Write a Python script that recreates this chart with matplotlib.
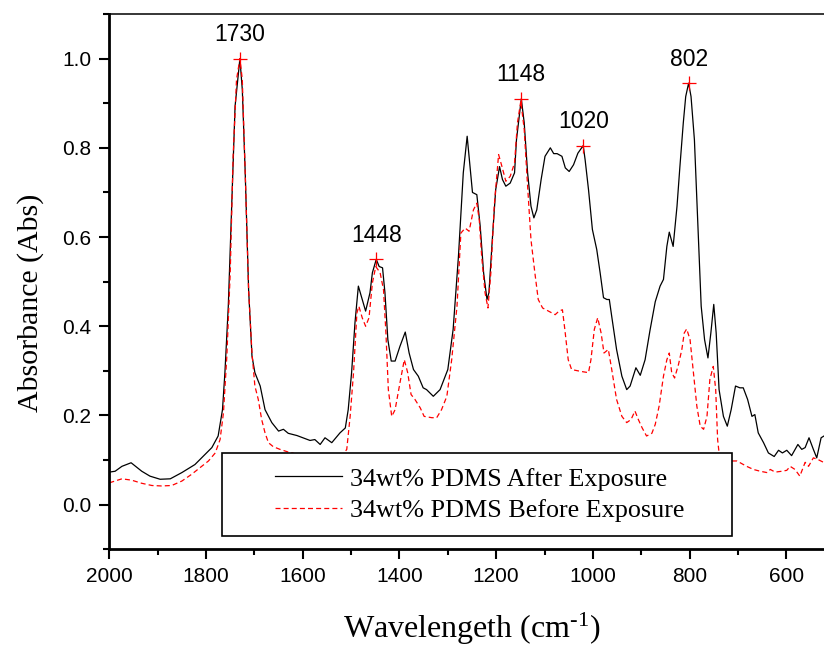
import numpy as np
import matplotlib
matplotlib.use("Agg")
import matplotlib.pyplot as plt
from matplotlib.ticker import MultipleLocator, FormatStrFormatter
from matplotlib.legend_handler import HandlerLine2D

# FTIR spectrum, 34wt% PDMS sample after exposure (wavenumber, absorbance)
after_wn = [2000, 1988, 1974, 1955, 1933, 1916, 1895, 1874, 1850, 1823, 1802, 1788,
            1775, 1766, 1761, 1754, 1747, 1740, 1730, 1725, 1719, 1712, 1705, 1699,
            1688, 1678, 1664, 1650, 1640, 1630, 1612, 1585, 1575, 1564, 1554, 1540,
            1523, 1512, 1506, 1499, 1492, 1485, 1477, 1470, 1461, 1456, 1448, 1442,
            1435, 1430, 1424, 1417, 1409, 1399, 1388, 1380, 1371, 1361, 1351, 1344,
            1330, 1316, 1300, 1289, 1278, 1268, 1260, 1254, 1249, 1240, 1233, 1226,
            1219, 1215, 1208, 1201, 1193, 1187, 1180, 1171, 1162, 1158, 1148, 1142,
            1135, 1128, 1122, 1116, 1107, 1099, 1088, 1081, 1074, 1064, 1057, 1049,
            1040, 1031, 1020, 1016, 1009, 1001, 992, 985, 978, 971, 966, 961,
            951, 940, 930, 923, 911, 902, 892, 882, 871, 861, 854, 847,
            842, 834, 826, 820, 813, 808, 802, 797, 790, 783, 776, 769,
            762, 756, 750, 745, 739, 730, 722, 714, 705, 696, 689, 680,
            671, 665, 658, 647, 637, 625, 616, 608, 599, 589, 576, 568,
            561, 553, 544, 537, 528, 522]
after_abs = [0.073, 0.075, 0.086, 0.094, 0.075, 0.064, 0.057, 0.058, 0.072, 0.090, 0.113, 0.128,
             0.154, 0.213, 0.296, 0.445, 0.669, 0.893, 1.000, 0.930, 0.744, 0.482, 0.333, 0.296,
             0.266, 0.213, 0.184, 0.165, 0.169, 0.160, 0.155, 0.144, 0.146, 0.135, 0.150, 0.139,
             0.161, 0.172, 0.213, 0.296, 0.408, 0.490, 0.460, 0.434, 0.475, 0.520, 0.550, 0.534,
             0.531, 0.475, 0.370, 0.322, 0.322, 0.355, 0.387, 0.340, 0.303, 0.288, 0.262, 0.258,
             0.243, 0.258, 0.303, 0.393, 0.557, 0.744, 0.826, 0.758, 0.700, 0.695, 0.624, 0.520,
             0.460, 0.475, 0.594, 0.706, 0.758, 0.729, 0.714, 0.721, 0.744, 0.818, 0.910, 0.856,
             0.744, 0.669, 0.643, 0.661, 0.729, 0.781, 0.800, 0.787, 0.787, 0.781, 0.755, 0.747,
             0.762, 0.788, 0.805, 0.773, 0.706, 0.617, 0.572, 0.520, 0.464, 0.460, 0.460, 0.422,
             0.348, 0.288, 0.258, 0.266, 0.307, 0.290, 0.325, 0.390, 0.455, 0.490, 0.505, 0.579,
             0.611, 0.579, 0.669, 0.758, 0.856, 0.915, 0.945, 0.915, 0.818, 0.632, 0.445, 0.370,
             0.329, 0.385, 0.449, 0.385, 0.258, 0.198, 0.176, 0.213, 0.266, 0.262, 0.262, 0.236,
             0.198, 0.202, 0.161, 0.139, 0.116, 0.108, 0.122, 0.116, 0.122, 0.110, 0.135, 0.124,
             0.128, 0.150, 0.124, 0.105, 0.150, 0.154]

# Same sample before exposure
before_wn = [2000, 1974, 1954, 1933, 1912, 1892, 1871, 1850, 1830, 1809, 1795, 1781,
             1771, 1764, 1757, 1750, 1744, 1737, 1730, 1725, 1719, 1712, 1705, 1699,
             1692, 1685, 1678, 1671, 1661, 1647, 1630, 1600, 1560, 1530, 1515, 1509,
             1502, 1495, 1488, 1484, 1477, 1470, 1463, 1456, 1449, 1440, 1433, 1428,
             1423, 1416, 1409, 1399, 1390, 1383, 1376, 1368, 1357, 1349, 1333, 1323,
             1313, 1302, 1292, 1281, 1273, 1264, 1256, 1247, 1240, 1235, 1230, 1223,
             1217, 1211, 1204, 1195, 1188, 1180, 1171, 1162, 1156, 1149, 1142, 1135,
             1128, 1120, 1113, 1104, 1092, 1078, 1070, 1063, 1058, 1051, 1044, 1026,
             1009, 1004, 997, 990, 983, 977, 968, 961, 951, 940, 930, 921,
             913, 906, 898, 889, 878, 871, 863, 854, 847, 842, 837, 831,
             823, 816, 811, 806, 799, 792, 785, 778, 771, 764, 758, 751,
             746, 742, 739, 730, 720, 710, 702, 682, 668, 654, 640, 633,
             623, 609, 599, 592, 582, 572, 561, 554, 544, 534, 523]
before_abs = [0.049, 0.058, 0.055, 0.048, 0.043, 0.042, 0.043, 0.053, 0.068, 0.086, 0.098, 0.116,
              0.146, 0.206, 0.333, 0.520, 0.781, 0.953, 1.000, 0.953, 0.744, 0.482, 0.340, 0.266,
              0.236, 0.191, 0.161, 0.139, 0.130, 0.124, 0.118, 0.110, 0.105, 0.108, 0.115, 0.124,
              0.198, 0.296, 0.430, 0.445, 0.419, 0.400, 0.419, 0.497, 0.534, 0.520, 0.482, 0.385,
              0.258, 0.198, 0.213, 0.273, 0.325, 0.296, 0.247, 0.236, 0.217, 0.198, 0.195, 0.195,
              0.213, 0.243, 0.325, 0.445, 0.609, 0.620, 0.613, 0.661, 0.676, 0.639, 0.557, 0.475,
              0.441, 0.520, 0.669, 0.785, 0.758, 0.725, 0.736, 0.766, 0.856, 0.905, 0.841, 0.714,
              0.594, 0.520, 0.460, 0.441, 0.434, 0.426, 0.434, 0.437, 0.393, 0.325, 0.303, 0.299,
              0.296, 0.325, 0.393, 0.419, 0.385, 0.340, 0.348, 0.303, 0.236, 0.198, 0.184, 0.191,
              0.210, 0.191, 0.172, 0.154, 0.160, 0.180, 0.221, 0.288, 0.325, 0.340, 0.296, 0.284,
              0.314, 0.348, 0.385, 0.394, 0.370, 0.296, 0.221, 0.176, 0.169, 0.198, 0.281, 0.310,
              0.258, 0.146, 0.116, 0.100, 0.098, 0.098, 0.098, 0.086, 0.079, 0.075, 0.072, 0.079,
              0.073, 0.075, 0.077, 0.086, 0.079, 0.064, 0.095, 0.086, 0.105, 0.101, 0.095]

# Labelled absorption peaks
peak_wn = [1730, 1448, 1148, 1020, 802]
peak_abs = [1.000, 0.550, 0.910, 0.805, 0.945]
peak_labels = ["1730", "1448", "1148", "1020", "802"]

series_labels = ["34wt% PDMS After Exposure", "34wt% PDMS Before Exposure"]

plt.rcParams["mathtext.fontset"] = "custom"
plt.rcParams["mathtext.rm"] = "Liberation Serif"
plt.rcParams["mathtext.it"] = "Liberation Serif:italic"

fig = plt.figure(figsize=(8.24, 6.46), dpi=100)
ax = fig.add_axes([0.1327, 0.1497, 0.8673, 0.8286])

ax.plot(after_wn, after_abs, color="black", lw=0.9, label=series_labels[0])
ax.plot(before_wn, before_abs, color="red", lw=0.9, ls=(0, (4, 2.5)),
        label=series_labels[1])

ax.plot(peak_wn, peak_abs, ls="none", marker="+", color="red", ms=10, mew=0.9, zorder=4)
for w, a, t in zip(peak_wn, peak_abs, peak_labels):
    ax.annotate(t, (w, a), xytext=(0, 12.5), textcoords="offset points",
                ha="center", va="baseline", fontsize=16.5, family="Liberation Sans")

ax.set_xlim(2000, 522)
ax.set_ylim(-0.1, 1.1)
ax.xaxis.set_major_locator(MultipleLocator(200))
ax.xaxis.set_minor_locator(MultipleLocator(100))
ax.yaxis.set_major_locator(MultipleLocator(0.2))
ax.yaxis.set_minor_locator(MultipleLocator(0.1))
ax.yaxis.set_major_formatter(FormatStrFormatter("%.1f"))

for side in ("left", "bottom"):
    ax.spines[side].set_linewidth(2.0)
ax.spines["top"].set_linewidth(1.1)
ax.spines["right"].set_visible(False)

ax.tick_params(which="both", direction="out", top=False, right=False, width=1.5)
ax.tick_params(which="major", length=7)
ax.tick_params(which="minor", length=4)
ax.tick_params(axis="x", which="major", pad=6)
ax.tick_params(axis="y", which="major", pad=6)
for lbl in ax.get_xticklabels() + ax.get_yticklabels():
    lbl.set_fontfamily("Liberation Sans")
    lbl.set_fontsize(15)

ax.set_xlabel(r"Wavelengeth (cm$^{\text{-1}}$)", family="Liberation Serif",
              fontsize=23, va="baseline")
ax.xaxis.set_label_coords(0.507, (549.3 - 638) / 535.3)
ax.set_ylabel("Absorbance (Abs)", family="Liberation Serif", fontsize=21.5, va="center")
ax.yaxis.set_label_coords((30 - 109.3) / 714.7, (549.3 - 303) / 535.3)


class ShiftedLineHandler(HandlerLine2D):
    """Legend line sample drawn in the right part of the handle box."""

    def __init__(self, lead, **kw):
        super().__init__(**kw)
        self.lead = lead

    def get_xdata(self, legend, xdescent, ydescent, width, height, fontsize):
        x0 = -xdescent + self.lead * width
        x1 = -xdescent + width
        return np.array([x0, x1]), np.array([0.5 * (x0 + x1)])


lines = ax.get_lines()[:2]
leg = ax.legend(handles=lines, loc="lower left",
                bbox_to_anchor=(0.157, 0.0248, 0.714, 0.157), mode="expand",
                borderaxespad=0, fancybox=False, framealpha=1, edgecolor="black",
                prop={"family": "Liberation Serif", "size": 18.8},
                handlelength=4.08, handletextpad=0.3, labelspacing=0.3, borderpad=0.55,
                handler_map={l: ShiftedLineHandler(0.37) for l in lines})
leg.get_frame().set_linewidth(1.2)

fig.savefig("out.png", dpi=100)
